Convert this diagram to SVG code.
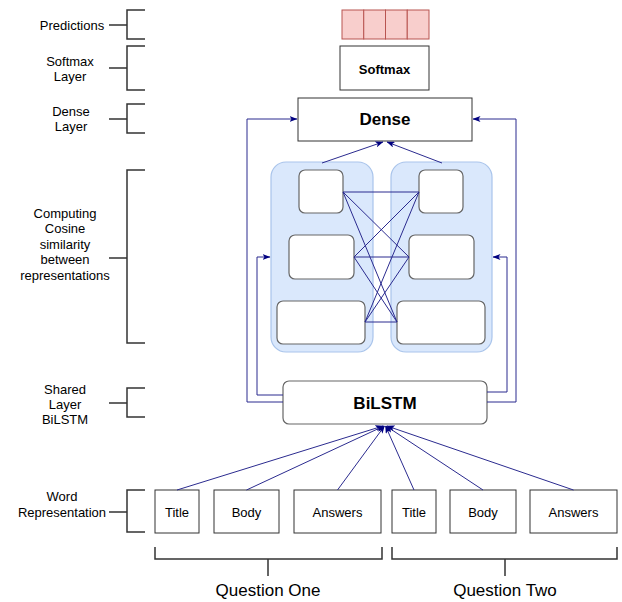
<svg xmlns="http://www.w3.org/2000/svg" width="622" height="602" viewBox="0 0 622 602">
<defs>
<style>
text{font-family:"Liberation Sans",Arial,Helvetica,sans-serif;fill:#000}
.lbl{font-size:13px;text-anchor:middle}
.big{font-size:17px;text-anchor:middle}
.br{fill:none;stroke:#333;stroke-width:1.5}
.box{fill:#fff;stroke:#333;stroke-width:1}
.rbox{fill:#fff;stroke:#666;stroke-width:1.2}
.cont{fill:#dae8fc;stroke:#a9c4eb;stroke-width:1.2}
.pred{fill:#f8cecc;stroke:#b85450;stroke-width:1}
.ln{fill:none;stroke:#2b2b8f;stroke-width:1}
.bold{font-weight:bold;text-anchor:middle}
</style>
<marker id="ah" viewBox="0 0 8 6" refX="7.5" refY="3" markerWidth="8" markerHeight="6" markerUnits="userSpaceOnUse" orient="auto">
<path d="M0,0 L8,3 L0,6 L2,3 z" fill="#000080"/>
</marker>
</defs>

<g id="side-labels">
<path class="br" d="M145,10 H127 V39 H145 M109,25 H127"/>
<text class="lbl" x="72" y="30">Predictions</text>
<path class="br" d="M145,46 H127 V90 H145 M109,68 H127"/>
<text class="lbl" x="70" y="66">Softmax</text>
<text class="lbl" x="70" y="81">Layer</text>
<path class="br" d="M145,104 H127 V133 H145 M109,119 H127"/>
<text class="lbl" x="71" y="116">Dense</text>
<text class="lbl" x="71" y="131">Layer</text>
<path class="br" d="M145,170 H127 V343 H145 M109,258 H127"/>
<text class="lbl" x="65" y="218">Computing</text>
<text class="lbl" x="65" y="233">Cosine</text>
<text class="lbl" x="65" y="249">similarity</text>
<text class="lbl" x="65" y="264">between</text>
<text class="lbl" x="65" y="280">representations</text>
<path class="br" d="M145,388 H127 V417 H145 M109,403 H127"/>
<text class="lbl" x="65" y="394">Shared</text>
<text class="lbl" x="65" y="409">Layer</text>
<text class="lbl" x="65" y="424">BiLSTM</text>
<path class="br" d="M145,490 H127 V532 H145 M109,512 H127"/>
<text class="lbl" x="62" y="501">Word</text>
<text class="lbl" x="62" y="517" font-size="12">Representation</text>
</g>

<g id="predictions">
<rect class="pred" x="342" y="10" width="21.75" height="29"/>
<rect class="pred" x="363.75" y="10" width="21.75" height="29"/>
<rect class="pred" x="385.5" y="10" width="21.75" height="29"/>
<rect class="pred" x="407.25" y="10" width="21.75" height="29"/>
</g>

<g id="softmax">
<rect class="box" x="340" y="46" width="89" height="44"/>
<text class="bold" x="384.5" y="74" font-size="13">Softmax</text>
</g>

<g id="dense">
<rect class="box" x="298" y="98" width="174" height="43"/>
<text class="bold" x="385" y="125" font-size="17">Dense</text>
</g>

<g id="container-left">
<rect class="cont" x="271" y="162" width="102" height="190" rx="15"/>
<rect class="rbox" x="299" y="170" width="44" height="43" rx="6"/>
<rect class="rbox" x="289" y="235" width="65" height="44" rx="6"/>
<rect class="rbox" x="277" y="301" width="88" height="43" rx="6"/>
</g>

<g id="container-right">
<rect class="cont" x="391" y="162" width="101" height="190" rx="15"/>
<rect class="rbox" x="419" y="170" width="44" height="43" rx="6"/>
<rect class="rbox" x="409" y="235" width="65" height="44" rx="6"/>
<rect class="rbox" x="397" y="301" width="88" height="43" rx="6"/>
</g>

<g id="bilstm">
<rect class="rbox" x="283" y="381" width="204" height="43" rx="6"/>
<text class="bold" x="385" y="409" font-size="17">BiLSTM</text>
</g>

<g id="word-boxes">
<rect class="box" x="155" y="490" width="44" height="43"/>
<text class="lbl" x="177" y="517">Title</text>
<rect class="box" x="214" y="490" width="65" height="43"/>
<text class="lbl" x="246.5" y="517">Body</text>
<rect class="box" x="294" y="490" width="87" height="43"/>
<text class="lbl" x="337.5" y="517">Answers</text>
<rect class="box" x="392" y="490" width="44" height="43"/>
<text class="lbl" x="414" y="517">Title</text>
<rect class="box" x="450" y="490" width="66" height="43"/>
<text class="lbl" x="483" y="517">Body</text>
<rect class="box" x="530" y="490" width="87" height="43"/>
<text class="lbl" x="573.5" y="517">Answers</text>
</g>

<g id="questions">
<path class="br" d="M155,547 V559 H382 V547 M268,559 V576"/>
<text class="big" x="268" y="596">Question One</text>
<path class="br" d="M392,547 V559 H617 V547 M505,559 V576"/>
<text class="big" x="505" y="596">Question Two</text>
</g>

<g id="connectors">
<path class="ln" d="M283,402 H247 V119 H297" marker-end="url(#ah)"/>
<path class="ln" d="M487,402 H516 V119 H473" marker-end="url(#ah)"/>
<path class="ln" d="M283,395 H257 V257 H270" marker-end="url(#ah)"/>
<path class="ln" d="M487,392 H507 V257 H493" marker-end="url(#ah)"/>
<path class="ln" d="M322,163 L383,142" marker-end="url(#ah)"/>
<path class="ln" d="M442,163 L387,142" marker-end="url(#ah)"/>
<path class="ln" d="M343,192 L419,192 M343,192 L409,257 M343,192 L397,322 M354,257 L419,192 M354,257 L409,257 M354,257 L397,322 M365,322 L419,192 M365,322 L409,257 M365,322 L397,322"/>
<path class="ln" d="M177,490 L383,426" marker-end="url(#ah)"/>
<path class="ln" d="M246.5,490 L384,426" marker-end="url(#ah)"/>
<path class="ln" d="M337.5,490 L384.5,426" marker-end="url(#ah)"/>
<path class="ln" d="M414,490 L385.5,426" marker-end="url(#ah)"/>
<path class="ln" d="M483,490 L386,426" marker-end="url(#ah)"/>
<path class="ln" d="M573.5,490 L387,426" marker-end="url(#ah)"/>
</g>
</svg>
